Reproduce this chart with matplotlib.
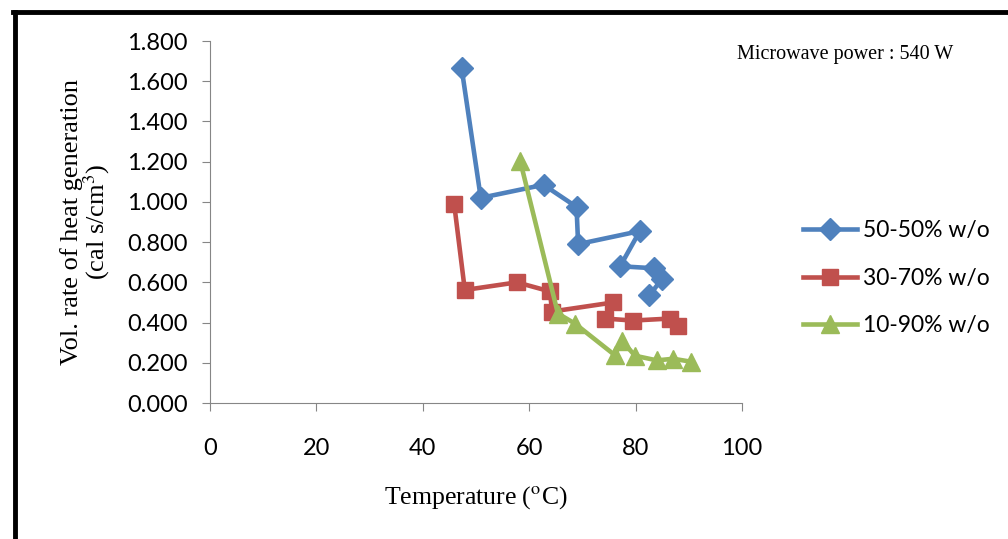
""" Volumetric heat generation rate vs temperature, microwave 540 W """

import matplotlib
matplotlib.use("Agg")
import matplotlib.pyplot as plt
from matplotlib.lines import Line2D

# series data
t_50 = [47.3, 50.9, 62.7, 68.9, 69.2, 80.8, 77.1, 83.5, 84.9, 82.6]
q_50 = [1.665, 1.020, 1.085, 0.975, 0.790, 0.855, 0.680, 0.670, 0.615, 0.535]

t_30 = [45.9, 47.9, 57.7, 63.9, 64.3, 75.8, 74.2, 79.5, 86.5, 88.0]
q_30 = [0.990, 0.562, 0.600, 0.555, 0.455, 0.500, 0.420, 0.410, 0.420, 0.385]

t_10 = [58.3, 65.4, 68.6, 76.1, 77.4, 79.9, 84.0, 87.1, 90.5]
q_10 = [1.205, 0.445, 0.395, 0.238, 0.310, 0.235, 0.212, 0.220, 0.205]

labels = ["50-50% w/o", "30-70% w/o", "10-90% w/o"]
x_ticks = [0, 20, 40, 60, 80, 100]
y_ticks = [0.0, 0.2, 0.4, 0.6, 0.8, 1.0, 1.2, 1.4, 1.6, 1.8]

plt.rcParams['mathtext.fontset'] = 'stix'

fig = plt.figure(figsize=(10.08, 5.39), dpi=100)
ax = fig.add_axes([0.2083, 0.2523, 0.5278, 0.6716])

ax.plot(t_50, q_50, color='#4F81BD', lw=3.3, marker='D', ms=11, label=labels[0])
ax.plot(t_30, q_30, color='#C0504D', lw=3.3, marker='s', ms=12, label=labels[1])
ax.plot(t_10, q_10, color='#9BBB59', lw=3.3, marker='^', ms=13, label=labels[2])

ax.set_xlim(0, 100)
ax.set_ylim(0, 1.8)
ax.set_xticks(x_ticks)
ax.set_yticks(y_ticks)
ax.set_yticklabels(["{:.3f}".format(v) for v in y_ticks])

for s in ['top', 'right']:
	ax.spines[s].set_visible(False)
for s in ['left', 'bottom']:
	ax.spines[s].set_color('#868686')
ax.tick_params(direction='out', length=6, color='#868686', labelsize=17)
ax.tick_params(axis='x', pad=19)
ax.tick_params(axis='y', pad=10)
for lab in ax.get_xticklabels() + ax.get_yticklabels():
	lab.set_family('Lato')

serif = 'Liberation Serif'
ax.set_xlabel("Temperature ($^{\\rm o}$C)", family=serif, fontsize=18.5, labelpad=18)
ax.set_ylabel("Vol. rate of heat generation\n(cal s/cm$^3$)", family=serif, fontsize=19,
	labelpad=11, linespacing=0.92)

fig.text(0.731, 0.89, "Microwave power : 540 W", family=serif, fontsize=14.5)

leg = ax.legend(loc='center left', bbox_to_anchor=(1.115, 0.345), frameon=False,
	prop={'family': 'Lato', 'size': 16.5}, handlelength=2.35, labelspacing=1.15,
	handletextpad=0.25, borderaxespad=0, borderpad=0)

# frame border on left and top of the figure
fig.add_artist(Line2D([0.015, 0.015], [0.0, 0.977], color='black', lw=3.5, transform=fig.transFigure))
fig.add_artist(Line2D([0.013, 1.0], [0.977, 0.977], color='black', lw=3.5, transform=fig.transFigure))

plt.savefig('out.png', dpi=100)
